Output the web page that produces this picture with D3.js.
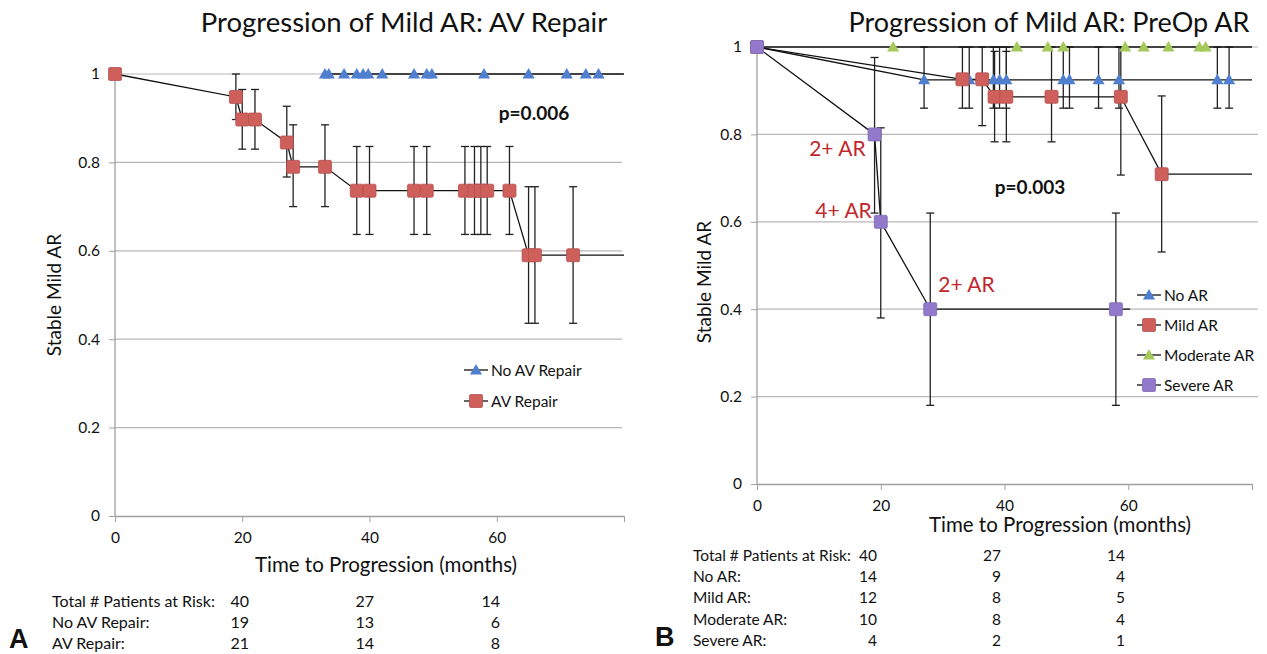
<!DOCTYPE html>
<html>
<head>
<meta charset="utf-8">
<script src="https://d3js.org/d3.v7.min.js"></script>
<style>
  body { margin: 0; background: #fff; }
  svg text { font-family: Lato, "Open Sans", sans-serif; fill: #111; }
</style>
</head>
<body>
<svg id="chart" width="1267" height="654"></svg>
<script>
// ---- panel A: AV repair vs no AV repair ----
var noRepT    = [33, 33.6, 36, 38, 39, 39.8, 42, 47, 49, 49.8, 58, 65, 71, 74, 76, 80];
var noRepS    = [1, 1, 1, 1, 1, 1, 1, 1, 1, 1, 1, 1, 1, 1, 1, 1];
var noRepMark = [1, 1, 1, 1, 1, 1, 1, 1, 1, 1, 1, 1, 1, 1, 1, 0];

var avT    = [0, 19, 20, 22, 27, 28, 33, 38, 40, 47, 49, 55, 56.5, 57.5, 58.5, 62, 65, 66, 72, 80];
var avS    = [1, 0.948, 0.897, 0.897, 0.845, 0.79, 0.79, 0.736, 0.736, 0.736, 0.736, 0.736, 0.736, 0.736, 0.736, 0.736, 0.59, 0.59, 0.59, 0.59];
var avLo   = [null, 0.897, 0.83, 0.83, 0.767, 0.70, 0.70, 0.637, 0.637, 0.637, 0.637, 0.637, 0.637, 0.637, 0.637, 0.637, 0.436, 0.436, 0.436, null];
var avHi   = [null, 1.0, 0.965, 0.965, 0.927, 0.885, 0.885, 0.836, 0.836, 0.836, 0.836, 0.836, 0.836, 0.836, 0.836, 0.836, 0.745, 0.745, 0.745, null];
var avMark = [1, 1, 1, 1, 1, 1, 1, 1, 1, 1, 1, 1, 1, 1, 1, 1, 1, 1, 1, 0];

var riskLabelsA = ["Total # Patients at Risk:", "No AV Repair:", "AV Repair:"];
var riskRowsA  = [[40, 27, 14], [19, 13, 6], [21, 14, 8]];

// ---- panel B: by preop AR grade ----
var noArT    = [0, 27, 34.3, 38.2, 39.2, 40.3, 49.5, 50.5, 55.2, 58.5, 74.4, 76.3, 80];
var noArS    = [1, 0.925, 0.925, 0.925, 0.925, 0.925, 0.925, 0.925, 0.925, 0.925, 0.925, 0.925, 0.925];
var noArLo   = [null, 0.86, 0.86, 0.86, 0.86, 0.86, 0.86, 0.86, 0.86, 0.86, 0.86, 0.86, null];
var noArHi   = [null, 1.0, 1.0, 1.0, 1.0, 1.0, 1.0, 1.0, 1.0, 1.0, 1.0, 1.0, null];
var noArMark = [0, 1, 1, 1, 1, 1, 1, 1, 1, 1, 1, 1, 0];

var mildT    = [0, 33.2, 36.4, 38.4, 40.3, 47.6, 58.8, 65.4, 80];
var mildS    = [1, 0.926, 0.926, 0.886, 0.886, 0.886, 0.886, 0.709, 0.709];
var mildLo   = [null, 0.86, 0.82, 0.783, 0.783, 0.783, 0.707, 0.531, null];
var mildHi   = [null, 1.0, 1.0, 0.99, 0.99, 1.0, 1.0, 0.888, null];
var mildMark = [1, 1, 1, 1, 1, 1, 1, 1, 0];

var modT    = [0, 22, 42, 47, 49.5, 59.5, 62.5, 66.5, 71.5, 72.5, 80];
var modS    = [1, 1, 1, 1, 1, 1, 1, 1, 1, 1, 1];
var modMark = [0, 1, 1, 1, 1, 1, 1, 1, 1, 1, 0];

var sevT    = [0, 19, 20, 28, 58, 60.3];
var sevS    = [1, 0.8, 0.6, 0.4, 0.4, 0.4];
var sevLo   = [null, 0.62, 0.38, 0.18, 0.18, null];
var sevHi   = [null, 0.976, 0.815, 0.62, 0.62, null];
var sevMark = [1, 1, 1, 1, 1, 0];

var sevNotes = ["2+ AR", "4+ AR", "2+ AR"];

var riskLabelsB = ["Total # Patients at Risk:", "No AR:", "Mild AR:", "Moderate AR:", "Severe AR:"];
var riskRowsB  = [[40, 27, 14], [14, 9, 4], [12, 8, 5], [10, 8, 4], [4, 2, 1]];

var xTicks = [0, 20, 40, 60];
var yTicks = [0, 0.2, 0.4, 0.6, 0.8, 1];

var BLUE = "#4f7fce", RED = "#cf5f5b", GREEN = "#a6c95b", PURPLE = "#9279cc";

var svg = d3.select("#chart");

function zip(t, s, lo, hi, mark) {
    return t.map(function(d, i) {
        return { t: d, s: s[i], lo: lo ? lo[i] : null, hi: hi ? hi[i] : null, mark: mark[i] };
    });
}

function marker(g, shape, color, x, y) {
    if (shape == "square") {
        g.append("rect")
            .attr("x", x - 6.5).attr("y", y - 6.5)
            .attr("width", 13).attr("height", 13)
            .attr("rx", 1.5)
            .attr("fill", color)
            .attr("stroke", d3.color(color).darker(0.4))
            .attr("stroke-width", 0.8);
    } else {
        g.append("path")
            .attr("d", d3.symbol().type(d3.symbolTriangle).size(64)())
            .attr("transform", "translate(" + x + "," + (y + 1) + ")")
            .attr("fill", color);
    }
}

function panel(p) {
    var x = d3.scaleLinear().domain([0, 80]).range([p.x0, p.x1]);
    var y = d3.scaleLinear().domain([0, 1]).range([p.y0, p.y1]);
    var g = svg.append("g");

    // horizontal grid
    g.selectAll(".grid").data(yTicks.slice(1)).enter().append("line")
        .attr("x1", p.x0).attr("x2", p.gridEnd)
        .attr("y1", function(d) { return y(d); })
        .attr("y2", function(d) { return y(d); })
        .attr("stroke", "#b8b8b8").attr("stroke-width", 1.2);

    var fmt = function(d) { return String(+d.toFixed(1)); };

    var ya = g.append("g")
        .attr("transform", "translate(" + p.x0 + ",0)")
        .call(d3.axisLeft(y).tickValues(yTicks).tickFormat(fmt).tickSize(6).tickPadding(9));
    var xa = g.append("g")
        .attr("transform", "translate(0," + p.y0 + ")")
        .call(d3.axisBottom(x).tickValues(xTicks.concat([80])).tickFormat(function(d) { return d == 80 ? "" : d; })
            .tickSize(6).tickPadding(10).tickSizeOuter(0));
    [ya, xa].forEach(function(a) {
        a.select(".domain").attr("stroke", "#a0a0a0").attr("stroke-width", 1.3);
        a.selectAll(".tick line").attr("stroke", "#a0a0a0");
        a.selectAll("text").style("font-size", "15.5px").attr("fill", "#111");
    });
    ya.select(".domain").attr("d", "M0," + p.y0 + "V" + p.y1);

    // error bars
    p.series.forEach(function(s) {
        s.data.filter(function(d) { return d.lo != null; }).forEach(function(d) {
            var cx = x(d.t);
            g.append("line").attr("x1", cx).attr("x2", cx)
                .attr("y1", y(d.lo)).attr("y2", y(d.hi))
                .attr("stroke", "#222").attr("stroke-width", 1.3);
            [d.lo, d.hi].forEach(function(v) {
                g.append("line").attr("x1", cx - 4).attr("x2", cx + 4)
                    .attr("y1", y(v)).attr("y2", y(v))
                    .attr("stroke", "#222").attr("stroke-width", 1.3);
            });
        });
    });

    // curves
    var line = d3.line().x(function(d) { return x(d.t); }).y(function(d) { return y(d.s); });
    p.series.forEach(function(s) {
        g.append("path").datum(s.data).attr("d", line)
            .attr("fill", "none").attr("stroke", "#111").attr("stroke-width", 1.3);
    });

    // markers
    p.series.forEach(function(s) {
        s.data.filter(function(d) { return d.mark; }).forEach(function(d) {
            marker(g, s.shape, s.color, x(d.t), y(d.s));
        });
    });

    // titles
    g.append("text").attr("x", p.titleX).attr("y", 32)
        .attr("text-anchor", "middle").style("font-size", p.titleSize)
        .text(p.title);
    g.append("text").attr("x", p.xTitleX).attr("y", p.xTitleY)
        .attr("text-anchor", "middle").style("font-size", "20.5px")
        .text("Time to Progression (months)");
    g.append("text")
        .attr("transform", "translate(" + p.yTitleX + "," + p.yTitleY + ") rotate(-90)")
        .attr("text-anchor", "middle").style("font-size", "19px")
        .text("Stable Mild AR");
    g.append("text").attr("x", p.pX).attr("y", p.pY)
        .attr("text-anchor", "middle").style("font-size", "19px").style("font-weight", "bold")
        .text(p.pText);

    // legend
    p.series.filter(function(s) { return s.name; }).forEach(function(s, i) {
        var ly = p.legY + i * p.legStep;
        g.append("line").attr("x1", p.legX).attr("x2", p.legX + 24)
            .attr("y1", ly).attr("y2", ly).attr("stroke", "#111").attr("stroke-width", 1.3);
        marker(g, s.shape, s.color, p.legX + 12, ly);
        g.append("text").attr("x", p.legX + 27).attr("y", ly + 5.5)
            .style("font-size", "15.5px").text(s.name);
    });

    // patients at risk table
    p.riskLabels.forEach(function(lab, i) {
        var ty = p.tabY + i * p.tabStep;
        g.append("text").attr("x", p.tabX).attr("y", ty).style("font-size", p.tabSize).text(lab);
        p.riskRows[i].forEach(function(v, j) {
            g.append("text").attr("x", p.colX[j]).attr("y", ty)
                .attr("text-anchor", "end").style("font-size", p.tabSize).text(v);
        });
    });

    g.append("text").attr("x", p.letterX).attr("y", p.letterY)
        .style("font-size", "27px").style("font-weight", "bold")
        .style("font-family", "Liberation Sans, Arial, sans-serif")
        .text(p.letter);

    return { x: x, y: y, g: g };
}

panel({
    x0: 115, x1: 624, y0: 516, y1: 74, gridEnd: 622,
    title: "Progression of Mild AR: AV Repair", titleX: 404, titleSize: "27.5px",
    xTitleX: 386, xTitleY: 572, yTitleX: 61, yTitleY: 295,
    pText: "p=0.006", pX: 534, pY: 120,
    legX: 464, legY: 370, legStep: 31,
    tabX: 52, tabY: 607, tabStep: 21, tabSize: "16px", colX: [249, 374, 500],
    riskLabels: riskLabelsA, riskRows: riskRowsA,
    letter: "A", letterX: 9, letterY: 648,
    series: [
        { name: "No AV Repair", shape: "triangle", color: BLUE, data: zip(noRepT, noRepS, null, null, noRepMark) },
        { name: "AV Repair", shape: "square", color: RED, data: zip(avT, avS, avLo, avHi, avMark) }
    ]
});

var pb = panel({
    x0: 757, x1: 1252, y0: 484, y1: 47, gridEnd: 1258,
    title: "Progression of Mild AR: PreOp AR", titleX: 1049, titleSize: "27px",
    xTitleX: 1060, xTitleY: 532, yTitleX: 711, yTitleY: 282,
    pText: "p=0.003", pX: 1030, pY: 194,
    legX: 1137, legY: 295, legStep: 30,
    tabX: 693, tabY: 561, tabStep: 21.2, tabSize: "15.5px", colX: [877, 1001, 1125],
    riskLabels: riskLabelsB, riskRows: riskRowsB,
    letter: "B", letterX: 655, letterY: 646,
    series: [
        { name: "No AR", shape: "triangle", color: BLUE, data: zip(noArT, noArS, noArLo, noArHi, noArMark) },
        { name: "Mild AR", shape: "square", color: RED, data: zip(mildT, mildS, mildLo, mildHi, mildMark) },
        { name: "Moderate AR", shape: "triangle", color: GREEN, data: zip(modT, modS, null, null, modMark) },
        { name: "Severe AR", shape: "square", color: PURPLE, data: zip(sevT, sevS, sevLo, sevHi, sevMark) }
    ]
});

// red notes next to the severe AR drops
var notePts = [1, 2, 3];
notePts.forEach(function(k, i) {
    var right = i < 2;
    pb.g.append("text")
        .attr("x", pb.x(sevT[k]) + (right ? -9 : 8))
        .attr("y", pb.y(sevS[k]) + (i == 0 ? 22 : i == 1 ? -4 : -17))
        .attr("text-anchor", right ? "end" : "start")
        .style("font-size", "21px").style("fill", "#c1272d")
        .text(sevNotes[i]);
});
</script>
</body>
</html>
